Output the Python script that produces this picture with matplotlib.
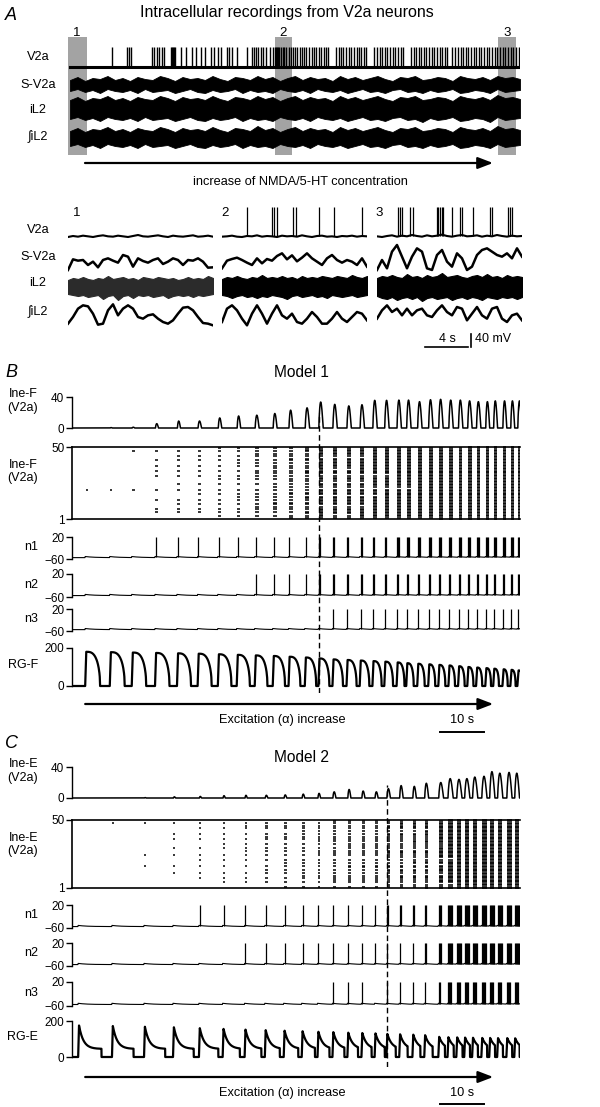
import numpy as np
import matplotlib
matplotlib.use("Agg")
import matplotlib.pyplot as plt

plt.rcParams['font.family'] = ['Liberation Sans', 'DejaVu Sans']

# ---------------- data ----------------
# A, long recording (time in s)
a_t_end = 450
a_env_step = 7.5
a_v2a_spikes = [42, 57, 59, 61, 82, 84, 87, 89, 92, 94, 101, 102, 103, 104, 105, 111, 116, 122,
                126, 131, 135, 141, 144, 148, 151, 157, 159, 162, 167, 177, 182, 184, 186, 188,
                191, 193, 196, 200, 203, 205, 206, 207, 208, 209, 211, 213, 214, 216, 219, 221,
                223, 225, 227, 230, 232, 234, 236, 239, 242, 244, 246, 249, 251, 254, 256, 258,
                266, 269, 271, 273, 276, 279, 281, 284, 287, 289, 291, 294, 296, 304, 307, 310,
                312, 315, 317, 320, 323, 325, 328, 331, 333, 341, 344, 346, 349, 351, 354, 356,
                359, 362, 364, 367, 370, 372, 375, 377, 382, 385, 388, 391, 393, 396, 398, 401,
                404, 406, 409, 411, 414, 417, 419, 422, 425, 427, 430, 433, 435, 438, 441, 443,
                446, 449]
a_sv2a_up = [15, 24, 12, 21, 18, 27, 15, 21, 12, 24, 18, 15, 27, 21, 12, 24, 18, 21, 15, 27,
             18, 12, 24, 21, 15, 27, 18, 24, 12, 21, 27, 15, 24, 18, 21, 12, 27, 18, 24, 15,
             21, 27, 18, 12, 24, 21, 27, 15, 18, 24, 21, 12, 27, 21, 18, 24, 15, 27, 21, 24, 18]
a_sv2a_lo = [18, 12, 21, 15, 24, 12, 18, 21, 15, 24, 12, 21, 18, 15, 24, 18, 12, 21, 24, 15,
             21, 18, 12, 24, 15, 21, 18, 24, 12, 18, 21, 15, 24, 12, 18, 21, 15, 24, 18, 12,
             21, 18, 24, 15, 12, 21, 18, 24, 15, 21, 18, 12, 24, 21, 15, 18, 24, 12, 21, 18, 15]
a_il2_up = [27, 36, 24, 33, 30, 39, 27, 33, 24, 36, 30, 27, 39, 33, 24, 36, 30, 33, 27, 39,
            30, 24, 36, 33, 27, 39, 30, 36, 24, 33, 39, 27, 36, 30, 33, 24, 39, 30, 36, 27,
            33, 39, 30, 24, 36, 33, 39, 27, 30, 36, 33, 24, 39, 33, 30, 36, 27, 42, 33, 36, 30]
a_il2_lo = [30, 24, 33, 27, 36, 24, 30, 33, 27, 36, 24, 33, 30, 27, 36, 30, 24, 33, 36, 27,
            33, 30, 24, 36, 27, 33, 30, 36, 24, 30, 33, 27, 36, 24, 30, 33, 27, 36, 30, 24,
            33, 30, 36, 27, 24, 33, 30, 39, 27, 33, 30, 24, 36, 33, 27, 30, 39, 24, 33, 30, 27]
a_int_up = [21, 30, 18, 27, 24, 33, 21, 27, 18, 30, 24, 21, 33, 27, 18, 30, 24, 27, 21, 33,
            24, 18, 30, 27, 21, 36, 24, 30, 18, 27, 33, 21, 30, 24, 27, 18, 33, 24, 30, 21,
            27, 33, 24, 18, 30, 27, 33, 21, 24, 30, 27, 18, 33, 27, 24, 30, 21, 36, 27, 30, 24]
a_int_lo = [24, 18, 27, 21, 30, 18, 24, 27, 21, 30, 18, 27, 24, 21, 30, 24, 18, 27, 30, 21,
            27, 24, 18, 30, 21, 27, 24, 30, 18, 24, 27, 21, 30, 18, 24, 27, 21, 30, 24, 18,
            27, 24, 30, 21, 18, 27, 24, 30, 21, 27, 24, 18, 30, 27, 21, 24, 30, 18, 27, 24, 21]
a_windows = [(-2, 17), (205, 222), (428, 446)]

# A, insets (13.5 s each, 30 samples)
inset_len = 13.5
in_v2a = [[0, 3, 1, 4, 2, 0, 3, 5, 2, 1, 4, 2, 0, 3, 6, 2, 1, 3, 5, 2, 0, 4, 2, 1, 3, 5, 1, 2, 4, 1],
          [1, 2, 4, 1, 0, 3, 2, 5, 1, 3, 2, 0, 4, 2, 3, 1, 5, 2, 0, 3, 4, 1, 2, 0, 3, 2, 4, 1, 3, 2],
          [2, 0, 3, 5, 1, 4, 2, 6, 3, 1, 5, 2, 4, 7, 3, 1, 4, 6, 2, 3, 5, 1, 4, 2, 6, 3, 1, 4, 2, 3]]
in_spikes = [[],
             [2.3, 4.65, 4.84, 5.12, 6.6, 6.9, 9.0, 10.4, 13.0],
             [1.95, 2.14, 2.33, 3.07, 3.35, 5.58, 5.67, 5.86, 6.05, 6.14, 6.98, 7.72, 7.91, 8.93,
              10.5, 10.7, 12.2, 12.4, 12.6]]
in_sv2a = [[0, 32, 28, 30, 15, 25, 8, 30, 35, 28, 22, 45, 40, 10, 35, 27, 22, 30, 35, 18, 25, 35,
            30, 15, 30, 28, 35, 25, 7, 8],
           [5, 28, 33, 37, 30, 22, 15, 35, 20, 33, 28, 42, 50, 32, 44, 26, 37, 50, 35, 25, 15, 35,
            45, 30, 22, 30, 25, 15, 35, 10],
           [0, 30, 5, 55, 75, 40, 5, 40, 65, 55, 5, 0, 45, 60, 25, 10, 50, 35, 0, 10, 45, 60, 65,
            55, 45, 40, 50, 35, 65, 40]]
in_il2_up = [[21, 27, 24, 30, 24, 21, 27, 24, 33, 24, 27, 30, 24, 27, 21, 30, 27, 24, 30, 27, 24,
              27, 21, 24, 30, 24, 27, 24, 33, 27],
             [24, 30, 27, 33, 27, 24, 30, 27, 36, 27, 30, 27, 33, 27, 30, 24, 33, 27, 30, 27, 33,
              30, 27, 33, 30, 27, 36, 30, 27, 33],
             [27, 33, 30, 36, 30, 27, 39, 30, 33, 27, 36, 30, 33, 42, 30, 33, 36, 30, 27, 33, 36,
              30, 39, 30, 33, 27, 36, 30, 33, 30]]
in_il2_lo = [[21, 24, 27, 24, 30, 27, 24, 36, 27, 24, 39, 27, 24, 33, 24, 27, 24, 30, 27, 24, 33,
              27, 24, 27, 24, 30, 24, 27, 24, 21],
             [24, 27, 33, 27, 24, 30, 27, 33, 27, 30, 24, 27, 30, 36, 27, 24, 30, 27, 24, 30, 27,
              33, 24, 27, 30, 27, 24, 30, 27, 24],
             [27, 33, 36, 30, 39, 33, 30, 36, 30, 42, 33, 30, 36, 33, 30, 39, 33, 30, 36, 30, 33,
              39, 30, 33, 36, 30, 33, 30, 36, 30]]
in_int = [[10, 30, 55, 65, 62, 40, 7, 10, 50, 68, 35, 55, 65, 55, 30, 25, 35, 38, 25, 15, 10, 20,
           40, 58, 60, 50, 30, 12, 10, 5],
          [15, 55, 65, 50, 25, 5, 40, 65, 40, 10, 40, 65, 35, 25, 40, 15, 10, 25, 45, 30, 10, 10,
           25, 45, 25, 15, 30, 45, 40, 20],
          [25, 50, 65, 45, 55, 35, 55, 35, 50, 55, 35, 30, 50, 65, 45, 35, 60, 55, 20, 40, 60, 35,
           25, 55, 60, 25, 15, 35, 40, 20]]

# B, model 1 (time in s)
T_MAX = 102
b_onsets = [3.0, 8.6, 13.6, 18.9, 23.9, 28.6, 33.2, 37.5, 41.6, 45.7, 49.3, 53.0, 56.1, 59.3,
            62.5, 65.5, 68.4, 71.1, 73.9, 76.1, 78.6, 81.1, 83.4, 85.7, 87.9, 90.0, 92.0, 94.1,
            95.9, 98.0, 99.8, 101.4]
b_rg_dur = [3.4, 3.4, 3.3, 3.3, 3.2, 3.2, 3.1, 3.0, 2.9, 2.8, 2.7, 2.6, 2.5, 2.4, 2.3, 2.2, 2.1,
            2.0, 1.8, 1.7, 1.7, 1.6, 1.6, 1.5, 1.5, 1.4, 1.4, 1.3, 1.3, 1.2, 1.2, 1.2]
b_rg_peak = [180, 178, 176, 174, 172, 170, 167, 164, 161, 158, 154, 150, 145, 140, 137, 134, 131,
             128, 124, 120, 117, 114, 111, 108, 104, 100, 97, 94, 91, 88, 85, 82]
b_ine_amp = [0, 0.5, 1, 5.6, 9, 9, 13, 15.5, 16.5, 18.7, 23, 26, 33.5, 30.5, 28.5, 30, 35.7, 35.7,
             36, 36, 34, 36.5, 37, 36, 36, 35, 34, 34, 35, 35, 35, 35]
b_ine_w = [0.5, 0.5, 0.6, 0.7, 0.7, 0.8, 0.8, 0.8, 0.9, 0.9, 0.9, 1.0, 1.0, 1.0, 1.0, 1.0, 1.0,
           1.0, 1.0, 1.0, 1.0, 1.0, 1.0, 1.0, 1.0, 1.0, 1.0, 0.9, 0.9, 0.9, 0.9, 0.9]
b_active = [1, 1, 2, 9, 12, 13, 16, 18, 21, 24, 28, 32, 42, 40, 40, 42, 45, 46, 47, 47, 48, 48,
            49, 49, 49, 50, 50, 50, 50, 50, 50, 50]
b_order = [21, 47, 41, 37, 34, 30, 14, 8, 6, 44, 25, 11, 18, 3, 49, 28, 39, 16, 45, 32, 9, 23, 36,
           12, 2, 42, 27, 19, 5, 48, 33, 15, 40, 24, 7, 29, 46, 13, 38, 20, 4, 35, 26, 10, 43, 17,
           31, 22, 1, 50]
b_n1 = [0, 0, 0, 1, 1, 1, 1, 1, 1, 1, 1, 1, 2, 2, 2, 2, 2, 2, 3, 3, 3, 3, 3, 3, 3, 3, 3, 3, 3, 3, 3, 3]
b_n2 = [0, 0, 0, 0, 0, 0, 0, 0, 1, 1, 1, 1, 2, 2, 2, 2, 2, 2, 2, 2, 2, 2, 2, 2, 2, 2, 2, 2, 2, 2, 2, 2]
b_n3 = [0, 0, 0, 0, 0, 0, 0, 0, 0, 0, 0, 0, 0, 1, 1, 1, 1, 1, 1, 1, 1, 1, 1, 1, 1, 1, 1, 1, 1, 1, 1, 1]
b_dash = 56.2

# C, model 2
c_onsets = [1.4, 9.1, 16.4, 23.0, 28.9, 34.3, 39.3, 43.9, 48.2, 52.3, 55.9, 59.3, 62.7, 65.9,
            68.9, 71.6, 74.5, 77.5, 80.2, 83.4, 85.5, 87.5, 89.3, 91.1, 93.2, 95.0, 96.8, 98.9,
            100.7]
c_rg_dur = [5.3, 4.9, 4.8, 4.7, 4.4, 3.9, 3.8, 3.4, 3.3, 3.0, 2.7, 2.7, 2.4, 2.3, 2.3, 2.1, 1.9,
            1.8, 1.9, 1.5, 1.4, 1.4, 1.3, 1.3, 1.3, 1.3, 1.3, 1.3, 1.2]
c_rg_peak = [175, 172, 168, 165, 160, 156, 152, 149, 146, 143, 140, 138, 135, 133, 131, 128, 126,
             124, 121, 112, 110, 109, 108, 107, 106, 106, 105, 105, 104]
c_rg_plateau = 45
c_ine_amp = [0, 0, 0.5, 1.5, 2, 3, 3.5, 3.5, 4, 5, 6, 8, 11, 9, 8, 12, 16, 15, 19, 20, 25, 24, 25,
             27, 28, 34, 32, 33, 32]
c_ine_w = [0.4, 0.4, 0.4, 0.5, 0.5, 0.5, 0.5, 0.6, 0.6, 0.6, 0.6, 0.7, 0.7, 0.7, 0.7, 0.8, 0.8,
           0.8, 0.9, 1.1, 1.2, 1.2, 1.2, 1.2, 1.2, 1.2, 1.2, 1.2, 1.1]
c_active = [0, 1, 3, 7, 10, 12, 14, 16, 18, 20, 22, 24, 26, 26, 26, 32, 34, 36, 38, 44, 48, 50, 50,
            50, 50, 50, 50, 50, 50]
c_order = [48, 25, 17, 40, 36, 30, 12, 44, 8, 21, 33, 5, 46, 28, 14, 38, 2, 19, 42, 10, 26, 35, 49,
           7, 16, 31, 23, 45, 3, 13, 39, 27, 9, 47, 20, 34, 1, 41, 15, 29, 6, 37, 24, 43, 11, 32,
           18, 50, 4, 22]
c_n1 = [0, 0, 0, 0, 1, 1, 1, 1, 1, 1, 1, 1, 1, 1, 1, 2, 2, 2, 2, 3, 5, 5, 5, 5, 5, 5, 5, 5, 5]
c_n2 = [0, 0, 0, 0, 0, 0, 1, 1, 1, 1, 1, 1, 1, 1, 1, 1, 1, 1, 2, 3, 5, 5, 5, 5, 5, 5, 5, 5, 5]
c_n3 = [0, 0, 0, 0, 0, 0, 0, 0, 0, 0, 0, 1, 1, 1, 0, 1, 1, 1, 1, 2, 4, 4, 4, 4, 4, 4, 4, 4, 4]
c_dash = 71.8

# ---------------- figure ----------------
W, H = 600, 1107
fig = plt.figure(figsize=(W / 100, H / 100), dpi=100)


def px_axes(x0, x1, y0, y1, off=True):
    ax = fig.add_axes([x0 / W, 1 - y1 / H, (x1 - x0) / W, (y1 - y0) / H])
    ax.patch.set_visible(False)
    if off:
        ax.axis('off')
    return ax


def ftext(x, y, s, **kw):
    kw.setdefault('ha', 'center')
    kw.setdefault('va', 'center')
    kw.setdefault('fontsize', 9.2)
    fig.text(x / W, 1 - y / H, s, **kw)


def arrow_ax(x0, x1, y, xlim, t0, t1):
    ax = px_axes(x0, x1, y - 8, y + 8)
    ax.set_xlim(*xlim)
    ax.set_ylim(0, 1)
    ax.annotate('', xy=(t1, 0.5), xytext=(t0, 0.5),
                arrowprops=dict(arrowstyle='-|>,head_length=0.65,head_width=0.25',
                                lw=1.6, color='k', mutation_scale=14, shrinkA=0, shrinkB=0))
    return ax


def trace_ax(y_hi, y_lo, v_lo, v_hi, pad_top=5, pad_bot=3, x0=72, x1=520):
    s = (v_hi - v_lo) / (y_lo - y_hi)
    ax = px_axes(x0, x1, y_hi - pad_top, y_lo + pad_bot, off=False)
    ax.set_xlim(0, T_MAX)
    ax.set_ylim(v_lo - pad_bot * s, v_hi + pad_top * s)
    for sp in ['top', 'right', 'bottom']:
        ax.spines[sp].set_visible(False)
    ax.spines['left'].set_bounds(v_lo, v_hi)
    ax.spines['left'].set_linewidth(1.0)
    ax.set_xticks([])
    ax.set_yticks([v_lo, v_hi])
    ax.tick_params(axis='y', length=4, width=1.0, pad=1.5, labelsize=8.5)
    return ax


# ===== Panel A =====
ftext(5, 16, 'A', ha='left', fontsize=13, style='italic')
ftext(287, 13, 'Intracellular recordings from V2a neurons', fontsize=11.5)

shade = px_axes(68, 520, 37, 155)
shade.set_xlim(-2, a_t_end)
for w0, w1 in a_windows:
    shade.axvspan(w0, w1, color='#a3a3a3', lw=0)
ftext(77, 33, '1', fontsize=9.5)
ftext(283, 33, '2', fontsize=9.5)
ftext(507, 33, '3', fontsize=9.5)

env_t = np.arange(0, a_t_end + 1, a_env_step)

ax = px_axes(68, 520, 40, 75)
ax.set_xlim(-2, a_t_end)
ax.set_ylim(-24, 81)
ax.plot([0, a_t_end], [0, 0], color='k', lw=2.2)
ax.vlines(a_v2a_spikes, 0, 60, color='k', lw=1.0)

for (yy0, yy1), up, lo in [((70, 100), a_sv2a_up, a_sv2a_lo),
                           ((94, 124), a_il2_up, a_il2_lo),
                           ((123, 153), a_int_up, a_int_lo)]:
    ax = px_axes(68, 520, yy0, yy1)
    ax.set_xlim(-2, a_t_end)
    ax.set_ylim(-45, 45)
    ax.fill_between(env_t, -np.array(lo), np.array(up), color='k', lw=0.6)

for y, lab in [(57, 'V2a'), (85, 'S-V2a'), (110, 'iL2'), (137, '\u222biL2')]:
    ftext(38, y, lab)

arrow_ax(68, 520, 163, (-2, a_t_end), 15, 423)
ftext(300, 182, 'increase of NMDA/5-HT concentration')

# insets
in_t = np.linspace(0, inset_len, 30)
for i, x0 in enumerate([68, 222, 377]):
    x1 = x0 + 145
    ax = px_axes(x0, x1, 205, 245)
    ax.set_xlim(0, inset_len)
    ax.set_ylim(-24, 96)
    ax.plot(in_t, in_v2a[i], color='k', lw=1.5)
    if in_spikes[i]:
        ax.vlines(in_spikes[i], 2, 90, color='k', lw=0.9)

    ax = px_axes(x0, x1, 240, 275)
    ax.set_xlim(0, inset_len)
    ax.set_ylim(-15, 90)
    ax.plot(in_t, in_sv2a[i], color='k', lw=1.8)

    ax = px_axes(x0, x1, 272, 302)
    ax.set_xlim(0, inset_len)
    ax.set_ylim(-45, 45)
    col = '#2b2b2b' if i == 0 else 'k'
    ax.fill_between(in_t, -np.array(in_il2_lo[i]), np.array(in_il2_up[i]), color=col, lw=0.8)

    ax = px_axes(x0, x1, 295, 332)
    ax.set_xlim(0, inset_len)
    ax.set_ylim(-15, 96)
    ax.plot(in_t, in_int[i], color='k', lw=1.8)

ftext(77, 213, '1', fontsize=9.5)
ftext(225, 213, '2', fontsize=9.5)
ftext(379, 213, '3', fontsize=9.5)
for y, lab in [(230, 'V2a'), (257, 'S-V2a'), (283, 'iL2'), (312, '\u222biL2')]:
    ftext(38, y, lab)

# scale bars of the insets
sb = px_axes(377, 522, 326, 352)
sb.set_xlim(0, inset_len)
sb.set_ylim(0, 78)
sb.plot([4.47, 8.47], [15, 15], color='k', lw=1.2)
sb.plot([8.74, 8.74], [15, 55], color='k', lw=1.2)
ftext(447, 339, '4 s', fontsize=9)
ftext(493, 339, '40 mV', fontsize=9)


# ===== Panels B and C =====
def rg_trace(onsets, durs, peaks, kind, plateau=0):
    t, y = [0.0], [0.0]
    for t0, d, p in zip(onsets, durs, peaks):
        t.append(t0)
        y.append(0)
        rise = 0.25 if kind == 'F' else 0.2
        tt = np.linspace(t0 + rise, t0 + d, 40)
        if kind == 'F':
            u = (tt - tt[0]) / (tt[-1] - tt[0])
            yy = p * np.sqrt(np.clip(1 - u ** 3, 0, None))
        else:
            yy = plateau + (p - plateau) * np.exp(-(tt - tt[0]) / 1.0)
        t.extend(tt)
        y.extend(yy)
        t.append(t0 + d + 0.03)
        y.append(0)
    t.append(T_MAX + 2)
    y.append(0)
    return np.array(t), np.array(y)


def ine_trace(onsets, amps, widths):
    t, y = [0.0], [0.0]
    for t0, a, w in zip(onsets, amps, widths):
        u = np.linspace(0, 1, 25)
        t.extend(t0 + 0.1 + u * w)
        y.extend(a * np.sin(np.pi * u ** 0.8))
    t.append(T_MAX + 2)
    y.append(0)
    return np.array(t), np.array(y)


def neuron_trace(ax, onsets, nspk):
    on = np.array(onsets)
    tt = np.arange(0, T_MAX + 1, 0.05)
    idx = np.searchsorted(on, tt, side='right') - 1
    base = np.full_like(tt, -55.0)
    ok = idx >= 0
    base[ok] = -55 + 4 * np.exp(-(tt[ok] - on[idx[ok]]) / 2.0)
    ax.plot(tt, base, color='k', lw=0.8)
    spk = []
    for t0, k in zip(onsets, nspk):
        spk.extend(t0 + 0.2 + 0.22 * j for j in range(k))
    if spk:
        ax.vlines(spk, -54, 20, color='k', lw=0.9)


def raster(ax, onsets, active, order, widths):
    for t0, n, w in zip(onsets, active, widths):
        if n == 0:
            continue
        L = max(0.3, 0.9 * w)
        ax.hlines(order[:n], t0 + 0.1, min(t0 + 0.1 + L, T_MAX), color='k', lw=1.1,
                  clip_on=False)


def model_panel(top, title_y, letter, title, tag, onsets, rg_d, rg_p, ine_a, ine_w, active,
                order, n1, n2, n3, dash_t, kind, rows):
    (y_ine, y_ras, y_n1, y_n2, y_n3, y_rg, y_arrow, y_cap, y_bar, y_dash) = rows
    ftext(5, top, letter, ha='left', fontsize=13, style='italic')
    ftext(301, title_y, title, fontsize=11.2)

    ax = trace_ax(y_ine[0], y_ine[1], 0, 40)
    t, y = ine_trace(onsets, ine_a, ine_w)
    ax.plot(t, y, color='k', lw=1.1)
    ftext(38, y_ine[0] - 3, 'Ine-' + tag, ha='right', fontsize=9)
    ftext(38, y_ine[0] + 11, '(V2a)', ha='right', fontsize=9)

    ax = trace_ax(y_ras[0], y_ras[1], 1, 50, pad_top=0, pad_bot=0)
    ax.spines['top'].set_visible(True)
    ax.spines['bottom'].set_visible(True)
    for sp in ['top', 'bottom', 'left']:
        ax.spines[sp].set_linewidth(1.2)
    raster(ax, onsets, active, order, ine_w)
    ftext(38, y_ras[0] + 18, 'Ine-' + tag, ha='right', fontsize=9)
    ftext(38, y_ras[0] + 31, '(V2a)', ha='right', fontsize=9)

    for (yy, lab, nsp) in [(y_n1, 'n1', n1), (y_n2, 'n2', n2), (y_n3, 'n3', n3)]:
        ax = trace_ax(yy[0], yy[1], -60, 20)
        neuron_trace(ax, onsets, nsp)
        ftext(38, (yy[0] + yy[1]) / 2 - 1, lab, ha='right', fontsize=9)

    ax = trace_ax(y_rg[0], y_rg[1], 0, 200)
    t, y = rg_trace(onsets, rg_d, rg_p, kind, plateau=c_rg_plateau)
    ax.plot(t, y, color='k', lw=1.6)
    ftext(38, (y_rg[0] + y_rg[1]) / 2 - 2, 'RG-' + tag, ha='right', fontsize=9)

    ov = px_axes(72, 520, y_dash[0], y_dash[1])
    ov.set_xlim(0, T_MAX)
    ov.axvline(dash_t, 0, 1, color='k', lw=1.0, ls=(0, (4, 2.5)))

    arrow_ax(72, 520, y_arrow, (0, T_MAX), 3.0, 95.9)
    ftext(282, y_cap, 'Excitation (\u03b1) increase')
    ftext(462, y_cap, '10 s', fontsize=9.2)
    bar = px_axes(72, 520, y_bar - 4, y_bar + 4)
    bar.set_xlim(0, T_MAX)
    bar.set_ylim(0, 1)
    bar.plot([83.8, 93.8], [0.5, 0.5], color='k', lw=1.4)


model_panel(372, 372, 'B', 'Model 1', 'F', b_onsets, b_rg_dur, b_rg_peak, b_ine_amp, b_ine_w,
            b_active, b_order, b_n1, b_n2, b_n3, b_dash, 'F',
            ((397, 428), (447, 519), (537, 559), (574, 597), (609, 631), (648, 686),
             704, 720, 732, (413, 693)))

model_panel(744, 757, 'C', 'Model 2', 'E', c_onsets, c_rg_dur, c_rg_peak, c_ine_amp, c_ine_w,
            c_active, c_order, c_n1, c_n2, c_n3, c_dash, 'E',
            ((767, 798), (820, 888), (905, 928), (943, 966), (982, 1006), (1021, 1057),
             1077, 1093, 1104, (785, 1067)))

fig.savefig('out.png', dpi=100)
